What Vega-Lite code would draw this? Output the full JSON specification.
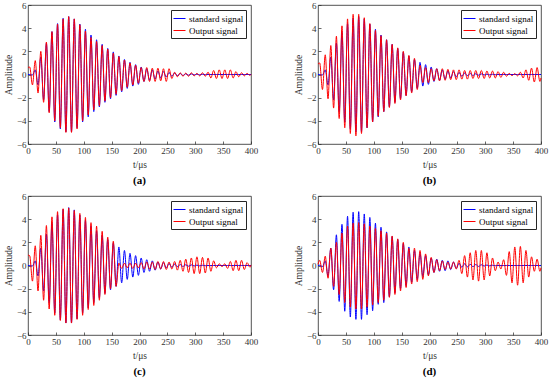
{
"$schema":"https://vega.github.io/schema/vega-lite/v6.json",
"padding":{"left":3,"top":0,"right":4,"bottom":2},
"config":{
 "font":"Liberation Serif",
 "view":{"stroke":"#262626","strokeWidth":0.8},
 "axis":{"grid":false,"domain":false,"ticks":true,"tickSize":-3,"tickColor":"#262626","tickWidth":0.7,"labelFont":"Liberation Serif","labelFontSize":9,"labelColor":"#333333","labelPadding":5,"titleFont":"Liberation Serif","titleFontSize":9.5,"titleFontWeight":"normal","titleColor":"#333333","titlePadding":3,"labelOverlap":false,"labelFlush":false},
 "legend":{"orient":"top-right","offset":5,"strokeColor":"#262626","fillColor":"white","padding":2,"rowPadding":0,"symbolType":"stroke","symbolSize":144,"symbolStrokeWidth":1,"labelFont":"Liberation Serif","labelFontSize":9,"labelColor":"black","labelOffset":3,"cornerRadius":0},
 "title":{"orient":"bottom","font":"Liberation Serif","fontSize":11,"fontWeight":"bold","color":"black","offset":6}
},
"datasets":{
"std":[{"t":0,"v":0},{"t":3,"v":0},{"t":8,"v":-0.05},{"t":13,"v":0.4},{"t":18,"v":-0.9},{"t":23,"v":1.5},{"t":28,"v":-2.2},{"t":33,"v":2.7},{"t":38,"v":-3.2},{"t":43,"v":3.7},{"t":48,"v":-4.1},{"t":53,"v":4.4},{"t":58,"v":-4.7},{"t":63,"v":4.85},{"t":68,"v":-4.95},{"t":73,"v":5.0},{"t":78,"v":-4.95},{"t":83,"v":4.8},{"t":88,"v":-4.6},{"t":93,"v":4.35},{"t":98,"v":-4.1},{"t":103,"v":3.9},{"t":108,"v":-3.65},{"t":113,"v":3.4},{"t":118,"v":-3.2},{"t":123,"v":3.0},{"t":128,"v":-2.8},{"t":133,"v":2.6},{"t":138,"v":-2.4},{"t":143,"v":2.25},{"t":148,"v":-2.1},{"t":153,"v":1.95},{"t":158,"v":-1.8},{"t":163,"v":1.6},{"t":168,"v":-1.5},{"t":173,"v":1.3},{"t":178,"v":-1.2},{"t":183,"v":1.05},{"t":188,"v":-1.0},{"t":193,"v":0.85},{"t":198,"v":-0.85},{"t":203,"v":0.65},{"t":208,"v":-0.6},{"t":213,"v":0.5},{"t":218,"v":-0.5},{"t":223,"v":0.4},{"t":228,"v":-0.4},{"t":233,"v":0.3},{"t":238,"v":-0.3},{"t":243,"v":0.25},{"t":248,"v":-0.22},{"t":253,"v":0.18},{"t":258,"v":-0.15},{"t":263,"v":0.12},{"t":268,"v":-0.1},{"t":273,"v":0.08},{"t":278,"v":-0.08},{"t":283,"v":0.06},{"t":288,"v":-0.06},{"t":293,"v":0.05},{"t":298,"v":-0.04},{"t":303,"v":0.03},{"t":308,"v":-0.03},{"t":313,"v":0.02},{"t":318,"v":-0.02},{"t":323,"v":0},{"t":328,"v":0},{"t":333,"v":0},{"t":338,"v":0},{"t":343,"v":0},{"t":348,"v":0},{"t":353,"v":0},{"t":358,"v":0},{"t":363,"v":0},{"t":368,"v":0},{"t":373,"v":0},{"t":378,"v":0},{"t":383,"v":0},{"t":388,"v":0},{"t":393,"v":0},{"t":398,"v":0},{"t":400,"v":0}],
"a_out":[{"t":0,"v":0.6},{"t":3,"v":0.65},{"t":8,"v":-0.9},{"t":13,"v":1.2},{"t":18,"v":-1.6},{"t":23,"v":2.0},{"t":28,"v":-2.4},{"t":33,"v":2.8},{"t":38,"v":-3.3},{"t":43,"v":3.7},{"t":48,"v":-4.0},{"t":53,"v":4.35},{"t":58,"v":-4.6},{"t":63,"v":4.8},{"t":68,"v":-5.0},{"t":73,"v":5.0},{"t":78,"v":-5.0},{"t":83,"v":4.8},{"t":88,"v":-4.7},{"t":93,"v":4.3},{"t":98,"v":-4.0},{"t":103,"v":3.75},{"t":108,"v":-3.5},{"t":113,"v":3.2},{"t":118,"v":-3.05},{"t":123,"v":2.85},{"t":128,"v":-2.7},{"t":133,"v":2.5},{"t":138,"v":-2.3},{"t":143,"v":2.2},{"t":148,"v":-2.0},{"t":153,"v":1.85},{"t":158,"v":-1.7},{"t":163,"v":1.55},{"t":168,"v":-1.4},{"t":173,"v":1.25},{"t":178,"v":-1.1},{"t":183,"v":1.0},{"t":188,"v":-0.9},{"t":193,"v":0.8},{"t":198,"v":-0.75},{"t":203,"v":0.6},{"t":208,"v":-0.6},{"t":213,"v":0.6},{"t":218,"v":-0.6},{"t":223,"v":0.55},{"t":228,"v":-0.6},{"t":233,"v":0.55},{"t":238,"v":-0.55},{"t":243,"v":0.5},{"t":248,"v":-0.6},{"t":253,"v":0.5},{"t":258,"v":-0.35},{"t":263,"v":0.2},{"t":268,"v":-0.2},{"t":273,"v":0.15},{"t":278,"v":-0.15},{"t":283,"v":0.12},{"t":288,"v":-0.15},{"t":293,"v":0.15},{"t":298,"v":-0.12},{"t":303,"v":0.1},{"t":308,"v":-0.12},{"t":313,"v":0.15},{"t":318,"v":-0.15},{"t":323,"v":0.2},{"t":328,"v":-0.3},{"t":333,"v":0.35},{"t":338,"v":-0.35},{"t":343,"v":0.4},{"t":348,"v":-0.35},{"t":353,"v":0.4},{"t":358,"v":-0.35},{"t":363,"v":0.4},{"t":368,"v":-0.3},{"t":373,"v":0.25},{"t":378,"v":-0.2},{"t":383,"v":0.15},{"t":388,"v":-0.12},{"t":393,"v":0.1},{"t":398,"v":-0.08},{"t":400,"v":0}],
"b_out":[{"t":0,"v":0.9},{"t":3,"v":1.0},{"t":8,"v":-1.3},{"t":13,"v":1.7},{"t":18,"v":-2.1},{"t":23,"v":2.5},{"t":28,"v":-2.9},{"t":33,"v":3.3},{"t":38,"v":-3.8},{"t":43,"v":4.2},{"t":48,"v":-4.6},{"t":53,"v":4.8},{"t":58,"v":-5.1},{"t":63,"v":5.2},{"t":68,"v":-5.3},{"t":73,"v":5.2},{"t":78,"v":-5.1},{"t":83,"v":4.9},{"t":88,"v":-4.6},{"t":93,"v":4.4},{"t":98,"v":-4.1},{"t":103,"v":3.8},{"t":108,"v":-3.6},{"t":113,"v":3.35},{"t":118,"v":-3.2},{"t":123,"v":3.0},{"t":128,"v":-2.85},{"t":133,"v":2.6},{"t":138,"v":-2.5},{"t":143,"v":2.3},{"t":148,"v":-2.2},{"t":153,"v":2.0},{"t":158,"v":-1.85},{"t":163,"v":1.65},{"t":168,"v":-1.6},{"t":173,"v":1.4},{"t":178,"v":-1.3},{"t":183,"v":0.8},{"t":188,"v":-0.7},{"t":193,"v":0.6},{"t":198,"v":-0.7},{"t":203,"v":0.5},{"t":208,"v":-0.55},{"t":213,"v":0.5},{"t":218,"v":-0.55},{"t":223,"v":0.5},{"t":228,"v":-0.5},{"t":233,"v":0.45},{"t":238,"v":-0.45},{"t":243,"v":0.4},{"t":248,"v":-0.45},{"t":253,"v":0.4},{"t":258,"v":-0.4},{"t":263,"v":0.35},{"t":268,"v":-0.4},{"t":273,"v":0.35},{"t":278,"v":-0.35},{"t":283,"v":0.35},{"t":288,"v":-0.35},{"t":293,"v":0.35},{"t":298,"v":-0.35},{"t":303,"v":0.3},{"t":308,"v":-0.3},{"t":313,"v":0.3},{"t":318,"v":-0.3},{"t":323,"v":0.25},{"t":328,"v":-0.25},{"t":333,"v":0.2},{"t":338,"v":-0.15},{"t":343,"v":0.1},{"t":348,"v":-0.1},{"t":353,"v":0.08},{"t":358,"v":-0.12},{"t":363,"v":0.2},{"t":368,"v":-0.3},{"t":373,"v":0.4},{"t":378,"v":-0.5},{"t":383,"v":0.55},{"t":388,"v":-0.65},{"t":393,"v":0.6},{"t":398,"v":-0.6},{"t":400,"v":-0.3}],
"c_out":[{"t":0,"v":0.9},{"t":3,"v":0.85},{"t":8,"v":-1.35},{"t":13,"v":1.7},{"t":18,"v":-2.2},{"t":23,"v":2.6},{"t":28,"v":-3.0},{"t":33,"v":3.45},{"t":38,"v":-3.75},{"t":43,"v":4.2},{"t":48,"v":-4.3},{"t":53,"v":4.65},{"t":58,"v":-4.75},{"t":63,"v":4.9},{"t":68,"v":-4.97},{"t":73,"v":4.97},{"t":78,"v":-4.97},{"t":83,"v":4.75},{"t":88,"v":-4.65},{"t":93,"v":4.5},{"t":98,"v":-4.3},{"t":103,"v":4.15},{"t":108,"v":-3.8},{"t":113,"v":3.7},{"t":118,"v":-3.45},{"t":123,"v":3.4},{"t":128,"v":-3.0},{"t":133,"v":2.95},{"t":138,"v":-2.5},{"t":143,"v":2.45},{"t":148,"v":-2.0},{"t":153,"v":2.1},{"t":158,"v":-1.8},{"t":163,"v":0.2},{"t":168,"v":-0.25},{"t":173,"v":0.2},{"t":178,"v":-0.2},{"t":183,"v":0.2},{"t":188,"v":-0.25},{"t":193,"v":0.2},{"t":198,"v":-0.2},{"t":203,"v":0.25},{"t":208,"v":-0.3},{"t":213,"v":0.3},{"t":218,"v":-0.3},{"t":223,"v":0.3},{"t":228,"v":-0.35},{"t":233,"v":0.35},{"t":238,"v":-0.3},{"t":243,"v":0.35},{"t":248,"v":-0.35},{"t":253,"v":0.3},{"t":258,"v":-0.3},{"t":263,"v":0.35},{"t":268,"v":-0.4},{"t":273,"v":0.45},{"t":278,"v":-0.5},{"t":283,"v":0.55},{"t":288,"v":-0.6},{"t":293,"v":0.65},{"t":298,"v":-0.7},{"t":303,"v":0.75},{"t":308,"v":-0.7},{"t":313,"v":0.7},{"t":318,"v":-0.65},{"t":323,"v":0.65},{"t":328,"v":-0.5},{"t":333,"v":0.4},{"t":338,"v":-0.2},{"t":343,"v":0.15},{"t":348,"v":-0.1},{"t":353,"v":0.15},{"t":358,"v":-0.25},{"t":363,"v":0.35},{"t":368,"v":-0.45},{"t":373,"v":0.45},{"t":378,"v":-0.45},{"t":383,"v":0.45},{"t":388,"v":-0.35},{"t":393,"v":0.25},{"t":398,"v":-0.15},{"t":400,"v":0.05}],
"d_std":[{"t":0,"v":0},{"t":3,"v":0.02},{"t":8,"v":-0.1},{"t":13,"v":0.4},{"t":18,"v":-0.9},{"t":23,"v":1.5},{"t":28,"v":-2.1},{"t":33,"v":2.65},{"t":38,"v":-3.1},{"t":43,"v":3.55},{"t":48,"v":-3.95},{"t":53,"v":4.25},{"t":58,"v":-4.45},{"t":63,"v":4.6},{"t":68,"v":-4.65},{"t":73,"v":4.65},{"t":78,"v":-4.65},{"t":83,"v":4.45},{"t":88,"v":-4.25},{"t":93,"v":4.15},{"t":98,"v":-3.9},{"t":103,"v":3.65},{"t":108,"v":-3.35},{"t":113,"v":3.3},{"t":118,"v":-3.2},{"t":123,"v":2.9},{"t":128,"v":-2.7},{"t":133,"v":2.5},{"t":138,"v":-2.35},{"t":143,"v":2.25},{"t":148,"v":-2.0},{"t":153,"v":1.9},{"t":158,"v":-1.75},{"t":163,"v":1.6},{"t":168,"v":-1.45},{"t":173,"v":1.3},{"t":178,"v":-1.2},{"t":183,"v":1.05},{"t":188,"v":-0.95},{"t":193,"v":0.85},{"t":198,"v":-0.8},{"t":203,"v":0.65},{"t":208,"v":-0.6},{"t":213,"v":0.55},{"t":218,"v":-0.5},{"t":223,"v":0.45},{"t":228,"v":-0.45},{"t":233,"v":0.4},{"t":238,"v":-0.35},{"t":243,"v":0.3},{"t":248,"v":-0.25},{"t":253,"v":0.2},{"t":258,"v":-0.15},{"t":263,"v":0.15},{"t":268,"v":-0.12},{"t":273,"v":0.1},{"t":278,"v":-0.1},{"t":283,"v":0.08},{"t":288,"v":-0.08},{"t":293,"v":0.06},{"t":298,"v":-0.05},{"t":303,"v":0.04},{"t":308,"v":-0.03},{"t":313,"v":0.02},{"t":318,"v":-0.02},{"t":323,"v":0},{"t":328,"v":0},{"t":333,"v":0},{"t":338,"v":0},{"t":343,"v":0},{"t":348,"v":0},{"t":353,"v":0},{"t":358,"v":0},{"t":363,"v":0},{"t":368,"v":0},{"t":373,"v":0},{"t":378,"v":0},{"t":383,"v":0},{"t":388,"v":0},{"t":393,"v":0},{"t":398,"v":0},{"t":400,"v":0}],
"d_out":[{"t":0,"v":0.1},{"t":3,"v":0.45},{"t":8,"v":-0.6},{"t":13,"v":0.8},{"t":18,"v":-1.1},{"t":23,"v":1.5},{"t":28,"v":-1.8},{"t":33,"v":2.0},{"t":38,"v":-2.5},{"t":43,"v":2.8},{"t":48,"v":-3.2},{"t":53,"v":3.4},{"t":58,"v":-3.6},{"t":63,"v":3.65},{"t":68,"v":-3.75},{"t":73,"v":3.7},{"t":78,"v":-3.75},{"t":83,"v":3.6},{"t":88,"v":-3.6},{"t":93,"v":3.4},{"t":98,"v":-3.4},{"t":103,"v":3.2},{"t":108,"v":-3.2},{"t":113,"v":3.0},{"t":118,"v":-3.0},{"t":123,"v":2.8},{"t":128,"v":-2.75},{"t":133,"v":2.55},{"t":138,"v":-2.5},{"t":143,"v":2.3},{"t":148,"v":-2.2},{"t":153,"v":2.0},{"t":158,"v":-1.9},{"t":163,"v":1.5},{"t":168,"v":-1.6},{"t":173,"v":1.5},{"t":178,"v":-1.4},{"t":183,"v":1.3},{"t":188,"v":-1.2},{"t":193,"v":1.0},{"t":198,"v":-0.9},{"t":203,"v":0.7},{"t":208,"v":-0.6},{"t":213,"v":0.5},{"t":218,"v":-0.45},{"t":223,"v":0.4},{"t":228,"v":-0.35},{"t":233,"v":0.3},{"t":238,"v":-0.3},{"t":243,"v":0.3},{"t":248,"v":-0.3},{"t":253,"v":0.45},{"t":258,"v":-0.7},{"t":263,"v":0.85},{"t":268,"v":-1.0},{"t":273,"v":1.1},{"t":278,"v":-1.25},{"t":283,"v":1.3},{"t":288,"v":-1.35},{"t":293,"v":1.3},{"t":298,"v":-1.25},{"t":303,"v":1.1},{"t":308,"v":-0.9},{"t":313,"v":0.65},{"t":318,"v":-0.45},{"t":323,"v":0.3},{"t":328,"v":-0.3},{"t":333,"v":0.5},{"t":338,"v":-0.85},{"t":343,"v":1.2},{"t":348,"v":-1.5},{"t":353,"v":1.6},{"t":358,"v":-1.7},{"t":363,"v":1.65},{"t":368,"v":-1.5},{"t":373,"v":1.3},{"t":378,"v":-1.0},{"t":383,"v":0.75},{"t":388,"v":-0.5},{"t":393,"v":0.55},{"t":398,"v":-0.5},{"t":400,"v":-0.2}]
},
"columns":2,
"spacing":{"row":5,"column":34},
"resolve":{"scale":{"color":"independent"},"legend":{"color":"independent"}},
"concat":[
 {"width":223,"height":139,"title":"(a)","layer":[
  {"data":{"name":"std"},"mark":{"type":"line","interpolate":"monotone","strokeWidth":1},"encoding":{"x":{"field":"t","type":"quantitative","scale":{"domain":[0,400],"nice":false},"axis":{"title":"t/μs","values":[0,50,100,150,200,250,300,350,400],"labelFlush":false,"labelOverlap":false,"titlePadding":4}},"y":{"field":"v","type":"quantitative","scale":{"domain":[-6,6],"nice":false},"axis":{"title":"Amplitude","values":[-6,-4,-2,0,2,4,6],"labelOverlap":false}},"color":{"datum":"standard signal","scale":{"domain":["standard signal","Output signal"],"range":["#0000ff","#ff0000"]},"legend":{"title":null}}}},
  {"data":{"name":"a_out"},"mark":{"type":"line","interpolate":"monotone","strokeWidth":1},"encoding":{"x":{"field":"t","type":"quantitative","axis":{"title":"t/μs","values":[0,50,100,150,200,250,300,350,400],"labelFlush":false,"labelOverlap":false,"titlePadding":4}},"y":{"field":"v","type":"quantitative","axis":{"title":"Amplitude","values":[-6,-4,-2,0,2,4,6],"labelOverlap":false}},"color":{"datum":"Output signal"}}}
 ]},
 {"width":223,"height":139,"title":"(b)","layer":[
  {"data":{"name":"std"},"mark":{"type":"line","interpolate":"monotone","strokeWidth":1},"encoding":{"x":{"field":"t","type":"quantitative","scale":{"domain":[0,400],"nice":false},"axis":{"title":"t/μs","values":[0,50,100,150,200,250,300,350,400],"labelFlush":false,"labelOverlap":false,"titlePadding":4}},"y":{"field":"v","type":"quantitative","scale":{"domain":[-6,6],"nice":false},"axis":{"title":"Amplitude","values":[-6,-4,-2,0,2,4,6],"labelOverlap":false}},"color":{"datum":"standard signal","scale":{"domain":["standard signal","Output signal"],"range":["#0000ff","#ff0000"]},"legend":{"title":null}}}},
  {"data":{"name":"b_out"},"mark":{"type":"line","interpolate":"monotone","strokeWidth":1},"encoding":{"x":{"field":"t","type":"quantitative","axis":{"title":"t/μs","values":[0,50,100,150,200,250,300,350,400],"labelFlush":false,"labelOverlap":false,"titlePadding":4}},"y":{"field":"v","type":"quantitative","axis":{"title":"Amplitude","values":[-6,-4,-2,0,2,4,6],"labelOverlap":false}},"color":{"datum":"Output signal"}}}
 ]},
 {"width":223,"height":139,"title":"(c)","layer":[
  {"data":{"name":"std"},"mark":{"type":"line","interpolate":"monotone","strokeWidth":1},"encoding":{"x":{"field":"t","type":"quantitative","scale":{"domain":[0,400],"nice":false},"axis":{"title":"t/μs","values":[0,50,100,150,200,250,300,350,400],"labelFlush":false,"labelOverlap":false,"titlePadding":4}},"y":{"field":"v","type":"quantitative","scale":{"domain":[-6,6],"nice":false},"axis":{"title":"Amplitude","values":[-6,-4,-2,0,2,4,6],"labelOverlap":false}},"color":{"datum":"standard signal","scale":{"domain":["standard signal","Output signal"],"range":["#0000ff","#ff0000"]},"legend":{"title":null}}}},
  {"data":{"name":"c_out"},"mark":{"type":"line","interpolate":"monotone","strokeWidth":1},"encoding":{"x":{"field":"t","type":"quantitative","axis":{"title":"t/μs","values":[0,50,100,150,200,250,300,350,400],"labelFlush":false,"labelOverlap":false,"titlePadding":4}},"y":{"field":"v","type":"quantitative","axis":{"title":"Amplitude","values":[-6,-4,-2,0,2,4,6],"labelOverlap":false}},"color":{"datum":"Output signal"}}}
 ]},
 {"width":223,"height":139,"title":"(d)","layer":[
  {"data":{"name":"d_std"},"mark":{"type":"line","interpolate":"monotone","strokeWidth":1},"encoding":{"x":{"field":"t","type":"quantitative","scale":{"domain":[0,400],"nice":false},"axis":{"title":"t/μs","values":[0,50,100,150,200,250,300,350,400],"labelFlush":false,"labelOverlap":false,"titlePadding":4}},"y":{"field":"v","type":"quantitative","scale":{"domain":[-6,6],"nice":false},"axis":{"title":"Amplitude","values":[-6,-4,-2,0,2,4,6],"labelOverlap":false}},"color":{"datum":"standard signal","scale":{"domain":["standard signal","Output signal"],"range":["#0000ff","#ff0000"]},"legend":{"title":null}}}},
  {"data":{"name":"d_out"},"mark":{"type":"line","interpolate":"monotone","strokeWidth":1},"encoding":{"x":{"field":"t","type":"quantitative","axis":{"title":"t/μs","values":[0,50,100,150,200,250,300,350,400],"labelFlush":false,"labelOverlap":false,"titlePadding":4}},"y":{"field":"v","type":"quantitative","axis":{"title":"Amplitude","values":[-6,-4,-2,0,2,4,6],"labelOverlap":false}},"color":{"datum":"Output signal"}}}
 ]}
]
}
